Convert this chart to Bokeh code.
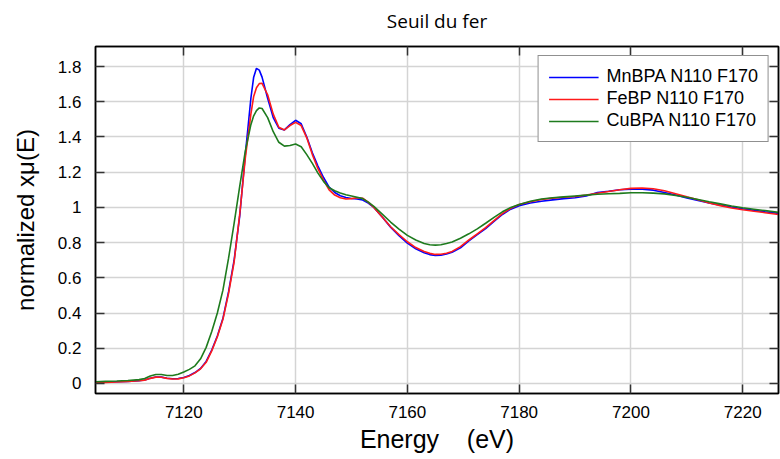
from bokeh.plotting import figure
from bokeh.models import (LinearAxis, FixedTicker, CustomJSTickFormatter, Legend,
                          LegendItem, Range1d, CustomLabelingPolicy)
from bokeh.embed import file_html
from bokeh.resources import INLINE

# ---- data ----
energy = [7104.2, 7106, 7108, 7110, 7112, 7113, 7114, 7115, 7116, 7117, 7118, 7119,
          7120, 7121, 7122, 7123, 7124, 7125, 7126, 7127, 7128, 7129, 7130, 7131,
          7132, 7132.5, 7133, 7133.5, 7134, 7135, 7136, 7137, 7138, 7139, 7140, 7141,
          7142, 7143, 7144, 7145, 7146, 7147, 7148, 7149, 7150, 7151, 7152, 7153,
          7154, 7155.5, 7157, 7158.5, 7160, 7161.5, 7163, 7164, 7165, 7166, 7167,
          7168, 7169.5, 7171, 7172.5, 7174, 7175.5, 7177, 7178.5, 7180, 7182, 7184,
          7186, 7188, 7190, 7192, 7194, 7196, 7198, 7200, 7202, 7204, 7206, 7208,
          7210, 7212, 7214, 7216, 7218, 7220, 7222, 7224, 7226.4]

mnbpa = [0.005, 0.007, 0.010, 0.012, 0.016, 0.020, 0.030, 0.037, 0.036, 0.030, 0.027, 0.028,
         0.034, 0.045, 0.062, 0.085, 0.125, 0.190, 0.270, 0.370, 0.520, 0.700, 0.950, 1.300,
         1.620, 1.740, 1.790, 1.780, 1.740, 1.620, 1.510, 1.450, 1.440, 1.470, 1.495, 1.475,
         1.400, 1.310, 1.235, 1.170, 1.115, 1.085, 1.066, 1.056, 1.051, 1.048, 1.042, 1.025,
         1.000, 0.945, 0.888, 0.840, 0.797, 0.765, 0.742, 0.732, 0.727, 0.728, 0.735,
         0.745, 0.770, 0.810, 0.845, 0.880, 0.920, 0.960, 0.990, 1.010, 1.025, 1.035,
         1.043, 1.050, 1.055, 1.065, 1.085, 1.092, 1.100, 1.104, 1.103, 1.098, 1.085, 1.070,
         1.053, 1.040, 1.025, 1.013, 1.002, 0.992, 0.983, 0.975, 0.966]

febp = [0.004, 0.006, 0.008, 0.011, 0.015, 0.019, 0.029, 0.036, 0.035, 0.029, 0.025, 0.026,
        0.032, 0.043, 0.060, 0.083, 0.120, 0.185, 0.265, 0.365, 0.510, 0.690, 0.960, 1.280,
        1.530, 1.630, 1.680, 1.703, 1.705, 1.640, 1.530, 1.455, 1.440, 1.465, 1.483, 1.465,
        1.395, 1.300, 1.220, 1.155, 1.100, 1.070, 1.055, 1.048, 1.050, 1.055, 1.052, 1.030,
        1.000, 0.945, 0.890, 0.845, 0.805, 0.772, 0.750, 0.739, 0.733, 0.734, 0.740,
        0.750, 0.777, 0.815, 0.850, 0.885, 0.925, 0.965, 0.995, 1.017, 1.032, 1.045,
        1.053, 1.058, 1.062, 1.070, 1.080, 1.090, 1.100, 1.108, 1.110, 1.106, 1.095, 1.078,
        1.060, 1.043, 1.025, 1.010, 0.997, 0.987, 0.978, 0.970, 0.960]

cubpa = [0.010, 0.012, 0.014, 0.017, 0.022, 0.028, 0.042, 0.051, 0.051, 0.045, 0.045, 0.052,
         0.065, 0.080, 0.100, 0.140, 0.205, 0.295, 0.400, 0.530, 0.710, 0.910, 1.120, 1.320,
         1.470, 1.520, 1.550, 1.565, 1.562, 1.510, 1.430, 1.370, 1.348, 1.352, 1.360, 1.345,
         1.300, 1.250, 1.195, 1.148, 1.112, 1.095, 1.082, 1.072, 1.065, 1.058, 1.050, 1.030,
         1.006, 0.962, 0.917, 0.877, 0.841, 0.815, 0.795, 0.788, 0.786, 0.788, 0.795,
         0.803, 0.825, 0.850, 0.878, 0.910, 0.943, 0.975, 1.000, 1.017, 1.035, 1.048,
         1.055, 1.060, 1.065, 1.070, 1.075, 1.078, 1.080, 1.083, 1.083, 1.081, 1.077, 1.068,
         1.058, 1.045, 1.032, 1.020, 1.008, 0.998, 0.990, 0.982, 0.972]

series_names = ["MnBPA N110 F170", "FeBP N110 F170", "CuBPA N110 F170"]
series_colors = ["#0000ff", "#ff1a1a", "#1e7b1e"]
x_ticks = [7120, 7140, 7160, 7180, 7200, 7220]
y_ticks = [0, 0.2, 0.4, 0.6, 0.8, 1.0, 1.2, 1.4, 1.6, 1.8]

FONT = "Liberation Sans"

p = figure(frame_width=683, frame_height=347,
           x_range=Range1d(7104.2, 7226.4), y_range=Range1d(-0.057, 1.914),
           output_backend="svg", toolbar_location=None,
           min_border_left=95, min_border_right=2, min_border_top=46, min_border_bottom=66)

p.title.text = "Seuil du fer"
p.title.align = "center"
p.title.text_font = "Open Sans"
p.title.text_font_size = "19px"
p.title.text_font_style = "normal"
p.title.text_color = "black"
p.title.standoff = 4
p.title.text_line_height = 1.0

p.outline_line_color = "black"
p.outline_line_width = 1.5

yfmt = CustomJSTickFormatter(code="return String(Math.round(tick*10)/10);")

for ax in p.xaxis:
    ax.ticker = FixedTicker(ticks=x_ticks)
for ax in p.yaxis:
    ax.ticker = FixedTicker(ticks=y_ticks)
    ax.formatter = yfmt

for ax in list(p.xaxis) + list(p.yaxis):
    ax.major_tick_in = 9
    ax.major_tick_out = 0
    ax.minor_tick_line_color = None
    ax.major_tick_line_color = "#333333"
    ax.major_tick_line_width = 1.5
    ax.axis_line_color = "black"
    ax.axis_line_width = 1.5
    ax.major_label_text_font = FONT
    ax.major_label_text_font_size = "17px"
    ax.major_label_text_color = "black"
    ax.axis_label_text_font = FONT
    ax.axis_label_text_font_style = "normal"
    ax.axis_label_text_color = "black"

p.xaxis.axis_label = "Energy\u00a0\u00a0\u00a0\u00a0(eV)"
p.yaxis.axis_label = "normalized x\u03bc(E)"
p.xaxis.axis_label_text_font_size = "25px"
p.yaxis.axis_label_text_font_size = "24px"
p.xaxis.major_label_standoff = 12
p.yaxis.major_label_standoff = 14
p.xaxis.axis_label_standoff = 4
p.yaxis.axis_label_standoff = 16

no_labels = CustomLabelingPolicy(code="return new Set();")
top_ax = LinearAxis(ticker=FixedTicker(ticks=x_ticks), major_label_policy=no_labels,
                    major_tick_in=9, major_tick_out=0, minor_tick_line_color=None,
                    major_tick_line_color="#333333", major_tick_line_width=1.5,
                    axis_line_color="black", axis_line_width=1.5, major_label_standoff=0)
right_ax = LinearAxis(ticker=FixedTicker(ticks=y_ticks), major_label_policy=no_labels,
                      major_tick_in=9, major_tick_out=0, minor_tick_line_color=None,
                      major_tick_line_color="#333333", major_tick_line_width=1.5,
                      axis_line_color="black", axis_line_width=1.5, major_label_standoff=0)
p.add_layout(top_ax, "above")
p.add_layout(right_ax, "right")

p.xgrid.ticker = FixedTicker(ticks=x_ticks)
p.ygrid.ticker = FixedTicker(ticks=y_ticks)
p.grid.grid_line_color = "#d4d4d4"
p.grid.grid_line_width = 1.5

renderers = []
for ys, c in zip([mnbpa, febp, cubpa], series_colors):
    renderers.append(p.line(energy, ys, line_color=c, line_width=1.6))

legend = Legend(items=[LegendItem(label=n, renderers=[r]) for n, r in zip(series_names, renderers)],
                location="top_right", margin=9, padding=10, spacing=1,
                glyph_width=50, glyph_height=20, label_height=20, label_standoff=8,
                label_text_font=FONT, label_text_font_size="18px", label_text_color="black",
                border_line_color="#222222", border_line_width=1.2,
                background_fill_color="white", background_fill_alpha=1.0)
p.add_layout(legend)

open("out.html", "w").write(file_html(p, INLINE))
